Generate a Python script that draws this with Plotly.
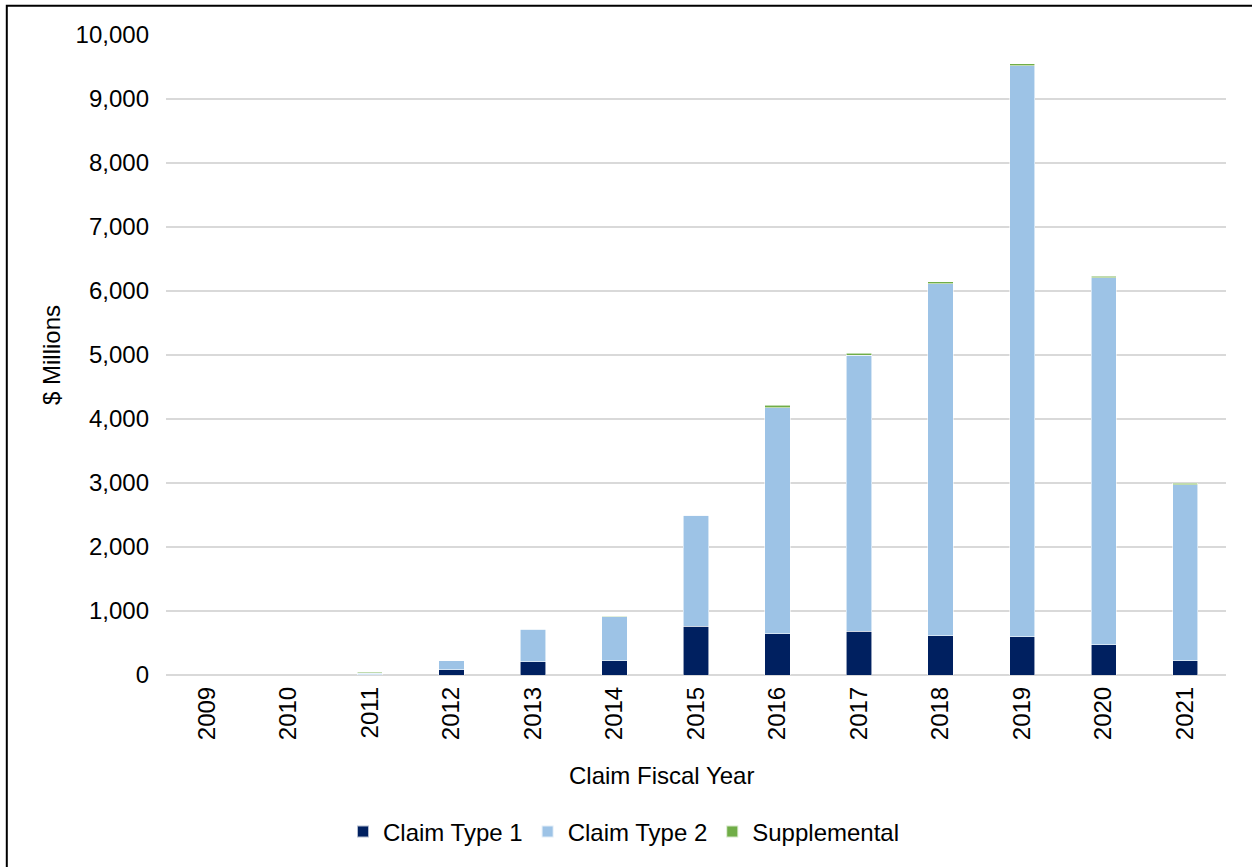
import plotly.graph_objects as go

# Claim fiscal years and amounts ($ millions)
years = ["2009", "2010", "2011", "2012", "2013", "2014", "2015",
         "2016", "2017", "2018", "2019", "2020", "2021"]
claim_type_1 = [0, 0, 2, 80, 205, 225, 760, 645, 685, 614, 594, 474, 219]
claim_type_2 = [0, 0, 25, 140, 513, 687, 1735, 3532, 4315, 5500, 8926, 5734, 2750]
supplemental = [0, 0, 15, 5, 5, 5, 5, 37, 31, 32, 30, 26, 31]

y_ticks = [0, 1000, 2000, 3000, 4000, 5000, 6000, 7000, 8000, 9000, 10000]

FONT = "Liberation Sans, Arial, sans-serif"
FS = 24

# Plot-area geometry in pixels (used to place paper-referenced items)
PL, PR, PT, PB = 166, 1226, 35, 675


def px_x(px):
    return (px - PL) / (PR - PL)


def px_y(py):
    return (PB - py) / (PB - PT)


series = [
    ("Claim Type 1", claim_type_1, "#002060"),
    ("Claim Type 2", claim_type_2, "#9DC3E6"),
    ("Supplemental", supplemental, "#70AD47"),
]

fig = go.Figure()
for name, vals, color in series:
    fig.add_trace(go.Bar(
        x=years, y=vals, name=name,
        marker=dict(color=color, line=dict(color="rgba(255,255,255,0.7)", width=0.8)),
    ))

fig.update_layout(
    barmode="stack",
    bargap=0.69,
    width=1252, height=867,
    margin=dict(l=PL, r=1252 - PR, t=PT, b=867 - PB),
    paper_bgcolor="white",
    plot_bgcolor="white",
    font=dict(family=FONT, size=FS, color="#000000"),
    showlegend=True,
    legend=dict(
        orientation="h", x=px_x(343), xanchor="left", y=px_y(832), yanchor="middle",
        font=dict(family=FONT, size=FS, color="#000000"),
        traceorder="normal", itemsizing="constant",
    ),
    xaxis=dict(
        type="category",
        range=[-0.5, 12.5],
        tickangle=-90,
        showgrid=False,
        showline=False,
        ticks="",
        ticklabelstandoff=6,
        tickfont=dict(family=FONT, size=FS),
    ),
    yaxis=dict(
        range=[0, 10000],
        tickvals=y_ticks,
        tickformat=",d",
        showgrid=True,
        gridcolor="#D9D9D9",
        gridwidth=2,
        zeroline=True,
        zerolinecolor="#D9D9D9",
        zerolinewidth=2,
        showline=False,
        ticks="",
        ticklabelstandoff=16,
        tickfont=dict(family=FONT, size=FS),
        title=dict(text="$ Millions", font=dict(family=FONT, size=FS), standoff=8),
    ),
    annotations=[
        dict(text="Claim Fiscal Year", xref="paper", yref="paper",
             x=px_x(661), y=px_y(775), xanchor="center", yanchor="middle",
             showarrow=False, font=dict(family=FONT, size=FS, color="#000000")),
    ],
    shapes=[
        dict(type="rect", xref="paper", yref="paper",
             x0=px_x(6.8), x1=1.2,
             y0=-0.5, y1=px_y(5.7),
             line=dict(color="black", width=2), fillcolor="rgba(0,0,0,0)", layer="above"),
    ],
)

fig.write_html("out.html")
